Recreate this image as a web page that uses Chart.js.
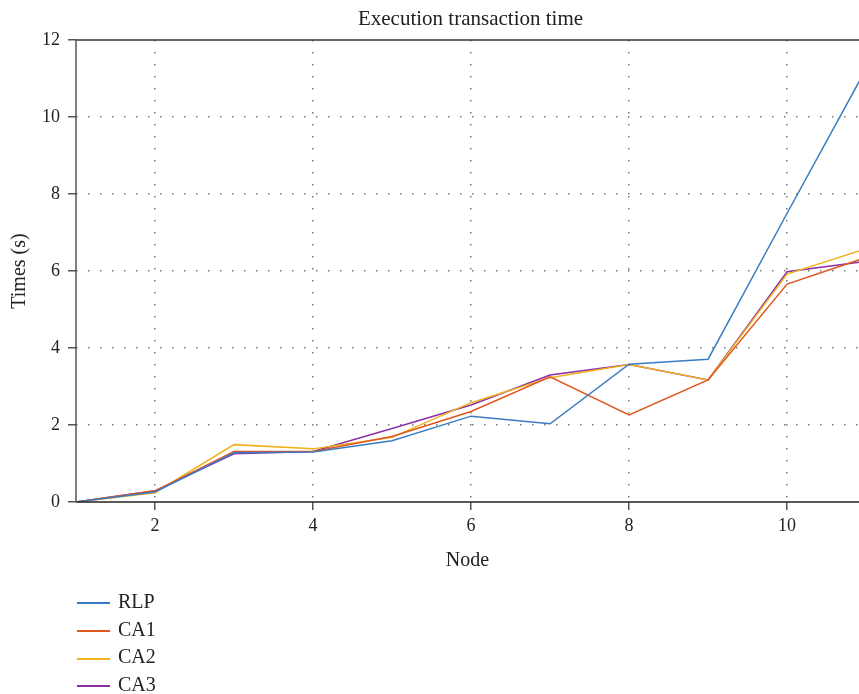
<!DOCTYPE html>
<html>
<head>
<meta charset="utf-8">
<script src="https://cdn.jsdelivr.net/npm/chart.js@4"></script>
<style>
  html, body { margin: 0; padding: 0; background: #fff; }
  #wrap { position: relative; width: 859px; height: 694px; overflow: hidden; }
  #chart { position: absolute; left: 0; top: 0; }
  #legend { position: absolute; left: 77px; top: 588px; font-family: 'Liberation Serif', serif; font-size: 20px; color: #222; }
  .row { height: 27.7px; line-height: 27.7px; white-space: nowrap; }
  .swatch { display: inline-block; width: 33px; height: 2px; vertical-align: middle; margin-right: 8px; }
</style>
</head>
<body>
<div id="wrap">
  <canvas id="chart" width="859" height="590"></canvas>
  <div id="legend"></div>
</div>
<script>
// Execution transaction time — four methods over node count

const FONT = 'Liberation Serif';

const nodes = [1, 2, 3, 4, 5, 6, 7, 8, 9, 10, 11];
const rlp = [0, 0.26, 1.28, 1.30, 1.59, 2.23, 2.03, 3.58, 3.71, 7.50, 11.25];
const ca1 = [0, 0.29, 1.31, 1.31, 1.70, 2.35, 3.25, 2.26, 3.17, 5.66, 6.35];
const ca2 = [0, 0.24, 1.49, 1.38, 1.68, 2.58, 3.23, 3.57, 3.17, 5.92, 6.58];
const ca3 = [0, 0.29, 1.25, 1.31, 1.91, 2.52, 3.30, 3.57, 3.17, 5.98, 6.25];

const seriesNames = ['RLP', 'CA1', 'CA2', 'CA3'];
const seriesValues = [rlp, ca1, ca2, ca3];
const seriesColors = ['#3a7cc4', '#e0561f', '#f0b21a', '#8b2fa6'];

const xTicks = [2, 4, 6, 8, 10];

const datasets = seriesNames.map((name, i) => ({
    label: name,
    data: nodes.map((n, j) => ({ x: n, y: seriesValues[i][j] })),
    borderColor: seriesColors[i],
    backgroundColor: seriesColors[i],
    borderWidth: 1.5,
    pointRadius: 0,
    tension: 0,
    fill: false
}));

// title + solid frame lines (grid lines themselves are dotted)
const frame = {
    id: 'frame',
    afterDraw(chart) {
        const { ctx, chartArea: a } = chart;
        ctx.save();
        ctx.setLineDash([]);
        ctx.lineWidth = 1.5;
        ctx.strokeStyle = '#333';
        ctx.beginPath();
        ctx.moveTo(a.left, a.top);
        ctx.lineTo(a.right, a.top);
        ctx.stroke();
        ctx.strokeStyle = '#222';
        ctx.beginPath();
        ctx.moveTo(a.left, a.bottom);
        ctx.lineTo(a.right, a.bottom);
        ctx.stroke();
        ctx.strokeStyle = '#555';
        ctx.beginPath();
        ctx.moveTo(a.left, a.top);
        ctx.lineTo(a.left, a.bottom);
        ctx.stroke();
        ctx.fillStyle = '#222';
        ctx.font = `21px "${FONT}"`;
        ctx.textAlign = 'center';
        ctx.textBaseline = 'alphabetic';
        ctx.fillText('Execution transaction time', (a.left + a.right) / 2 + 3, 25);
        ctx.restore();
    }
};

const dotted = [1.5, 10.5];

new Chart(document.getElementById('chart'), {
    type: 'line',
    data: { datasets },
    plugins: [frame],
    options: {
        responsive: false,
        animation: false,
        layout: { padding: { top: 40, right: 0, bottom: 0, left: 0 } },
        plugins: {
            legend: { display: false },
            tooltip: { enabled: false },
            title: { display: false }
        },
        scales: {
            x: {
                type: 'linear',
                min: 1,
                max: 10.91,
                afterBuildTicks: s => { s.ticks = xTicks.map(v => ({ value: v })); },
                afterFit: s => { s.height = 88; },
                ticks: { font: { family: FONT, size: 18 }, color: '#222', padding: 5 },
                grid: {
                    color: '#7a7a7a',
                    lineWidth: 1.5,
                    tickLength: 8,
                    tickColor: '#555',
                    tickWidth: 1.5,
                    tickBorderDash: []
                },
                border: { display: false, dash: dotted },
                title: {
                    display: true,
                    text: 'Node',
                    font: { family: FONT, size: 20 },
                    color: '#222',
                    padding: { top: 0, bottom: 17 }
                }
            },
            y: {
                min: 0,
                max: 12,
                ticks: { stepSize: 2, font: { family: FONT, size: 18 }, color: '#222', padding: 8 },
                afterFit: s => { s.width = 76; },
                grid: {
                    color: c => (c.tick && (c.tick.value === 0 || c.tick.value === 12)) ? 'rgba(0,0,0,0)' : '#7a7a7a',
                    lineWidth: 1.5,
                    tickLength: 8,
                    tickColor: '#555',
                    tickWidth: 1.5,
                    tickBorderDash: []
                },
                border: { display: false, dash: dotted },
                title: {
                    display: true,
                    text: 'Times (s)',
                    font: { family: FONT, size: 20 },
                    color: '#222',
                    padding: { top: 8, bottom: 0 }
                }
            }
        }
    }
});

// legend below the plot
const legend = document.getElementById('legend');
seriesNames.forEach((name, i) => {
    const row = document.createElement('div');
    row.className = 'row';
    const sw = document.createElement('span');
    sw.className = 'swatch';
    sw.style.background = seriesColors[i];
    row.appendChild(sw);
    row.appendChild(document.createTextNode(name));
    legend.appendChild(row);
});
</script>
</body>
</html>
